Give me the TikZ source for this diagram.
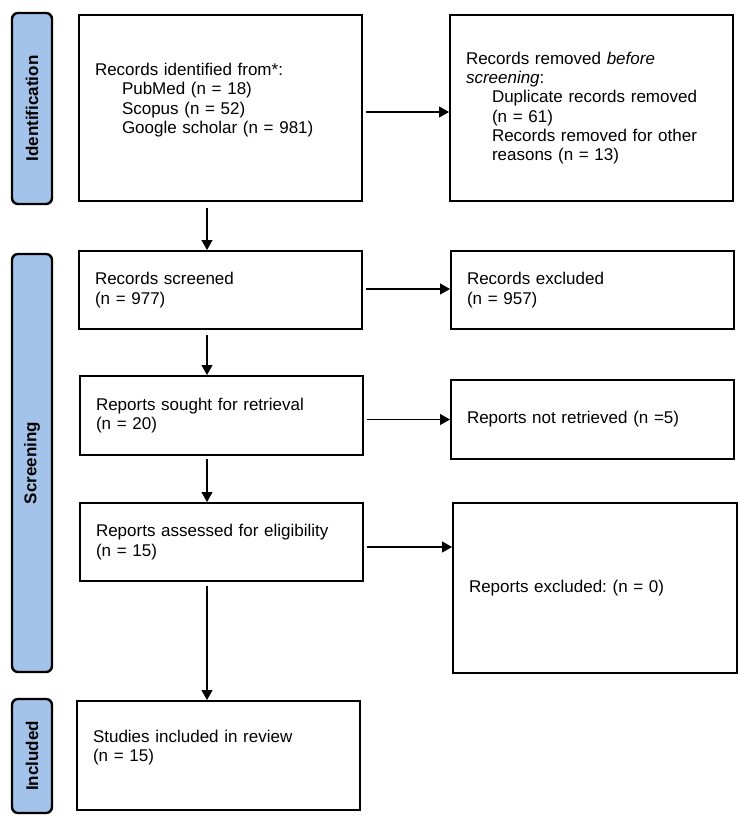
\documentclass[tikz,border=0pt]{standalone}
\usepackage{fontspec}
\setmainfont{Liberation Sans}
\usetikzlibrary{arrows.meta,positioning}
\definecolor{barblue}{HTML}{A4C3EA}
\frenchspacing

\begin{document}
\begin{tikzpicture}[x=1pt,y=-1pt,
    box/.style={draw,line width=2pt,align=left,inner xsep=16pt,text width=251pt,font=\fontsize{17}{19.3}\selectfont},
    bar/.style={draw,line width=2.4pt,fill=barblue,rounded corners=6pt,rotate=90,minimum height=40pt,font=\bfseries\fontsize{17}{19.3}\selectfont},
    arr/.style={-{Triangle[length=10pt,width=11pt]},line width=1.2pt}]
  \useasboundingbox (0,0) rectangle (750,825);
  \node[bar,minimum width=191pt] (ident) at (32,108.5) {Identification};
  \node[bar,minimum width=418pt] (screen) at (32,463) {Screening};
  \node[bar,minimum width=114pt] (incl) at (32,756) {Included};
  \coordinate (spine) at (207,0);
  \node[box,minimum height=186pt] (ident1) at (220.5,108) {Records identified from*:\\
    \hspace*{27pt}PubMed (n = 18)\\
    \hspace*{27pt}Scopus (n = 52)\\
    \hspace*{27pt}Google scholar (n = 981)\\ \mbox{}};
  \node[box,minimum height=186pt] (ident2) at (591.5,108) {Records removed \textit{before}\\
    \textit{screening}:\\
    \hspace*{26pt}Duplicate records removed\\
    \hspace*{26pt}(n = 61)\\
    \hspace*{26pt}Records removed for other\\
    \hspace*{26pt}reasons (n = 13)};
  \node[box,minimum height=78pt] (scr1) at (220.5,290) {Records screened\\(n = 977)};
  \node[box,minimum height=78pt] (scr2) at (592.5,290) {Records excluded\\(n = 957)};
  \node[box,minimum height=79pt] (ret1) at (221.5,415.5) {Reports sought for retrieval\\(n = 20)};
  \node[box,minimum height=79pt] (ret2) at (592.5,419.5) {Reports not retrieved (n =5)};
  \node[box,minimum height=78pt] (elig1) at (221.5,542) {Reports assessed for eligibility\\(n = 15)};
  \node[box,minimum height=170pt,text width=252pt] (elig2) at (595,588) {Reports excluded: (n = 0)};
  \node[box,minimum height=109pt] (incl1) at (218.5,755.5) {Studies included in review\\(n = 15)\\ \mbox{}};
  \draw[arr,shorten <=6pt] (ident1.south -| spine) -- (scr1.north -| spine);
  \draw[arr,shorten <=5pt] (scr1.south -| spine) -- (ret1.north -| spine);
  \draw[arr,shorten <=3pt] (ret1.south -| spine) -- (elig1.north -| spine);
  \draw[arr,shorten <=4pt] (elig1.south -| spine) -- (incl1.north -| spine);
  \draw[arr,shorten <=3pt] ([yshift=-4pt]ident1.east) -- ([yshift=-4pt]ident1.east -| ident2.west);
  \draw[arr,shorten <=3pt] ([yshift=1pt]scr1.east) -- ([yshift=1pt]scr1.east -| scr2.west);
  \draw[arr,shorten <=3pt] (ret1.east |- ret2.west) -- (ret2.west);
  \draw[arr,shorten <=3pt] ([yshift=-5pt]elig1.east) -- ([yshift=-5pt]elig1.east -| elig2.west);
\end{tikzpicture}
\end{document}
